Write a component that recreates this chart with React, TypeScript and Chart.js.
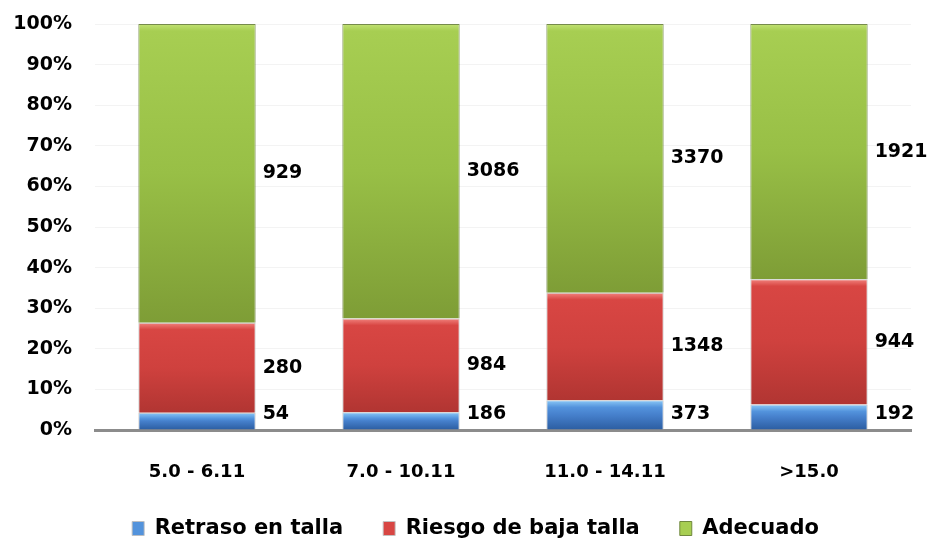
import React, { useEffect, useRef } from "react";
import { Chart, registerables } from "chart.js";

Chart.register(...registerables);

const categories = ["5.0 - 6.11", "7.0 - 10.11", "11.0 - 14.11", ">15.0"];
const seriesNames = ["Retraso en talla", "Riesgo de baja talla", "Adecuado"];
const retraso = [54, 186, 373, 192];
const riesgo = [280, 984, 1348, 944];
const adecuado = [929, 3086, 3370, 1921];
const yTicks = [0, 10, 20, 30, 40, 50, 60, 70, 80, 90, 100];

const palette = [
  { hi: "#8ccaf8", mid: "#5393dc", mid2: "#4680cc", lo: "#2c5ea2", border: "rgba(190,190,190,0.9)" },
  { hi: "#f2847f", mid: "#d84643", mid2: "#cf413e", lo: "#b13532", border: "rgba(195,195,195,0.95)" },
  { hi: "#c2e274", mid: "#a7ce52", mid2: "#98bf46", lo: "#7e9d36", border: "rgba(95,120,45,0.85)" },
];

const FONT = '"DejaVu Sans", "Liberation Sans", Arial, sans-serif';

export default function App() {
  const ref = useRef<HTMLCanvasElement>(null);

  useEffect(() => {
    if (!ref.current) return;
    const raw = [retraso, riesgo, adecuado];
    const totals = categories.map((_, i) => retraso[i] + riesgo[i] + adecuado[i]);
    const pct = raw.map((s) => s.map((v, i) => (v / totals[i]) * 100));

    const gradientPlugin = {
      id: "gradientBars",
      beforeDatasetsDraw(chart: any) {
        const ctx = chart.ctx;
        chart.data.datasets.forEach((_: any, i: number) => {
          const meta = chart.getDatasetMeta(i);
          meta.data.forEach((el: any) => {
            const top = Math.min(el.y, el.base);
            const bot = Math.max(el.y, el.base);
            const h = Math.max(1, bot - top);
            const g = ctx.createLinearGradient(0, top, 0, bot);
            const c = palette[i];
            const s1 = Math.min(0.35, 7 / h);
            g.addColorStop(0, c.hi);
            g.addColorStop(s1, c.mid);
            g.addColorStop(Math.max(s1 + 0.01, 0.5), c.mid2);
            g.addColorStop(1, c.lo);
            el.options.backgroundColor = g;
          });
        });
      },
    };

    const legendShift = {
      id: "legendShift",
      afterLayout(chart: any) {
        const lg = chart.legend;
        if (!lg) return;
        lg.left += 17;
        lg.right += 17;
      },
    };

    const labelPlugin = {
      id: "valueLabels",
      afterDatasetsDraw(chart: any) {
        const ctx = chart.ctx;
        ctx.save();
        ctx.font = `bold 19px ${FONT}`;
        ctx.fillStyle = "#000";
        ctx.textAlign = "left";
        ctx.textBaseline = "middle";
        chart.data.datasets.forEach((_: any, i: number) => {
          const meta = chart.getDatasetMeta(i);
          meta.data.forEach((el: any, j: number) => {
            const x = el.x + el.width / 2 + 7;
            let y = (el.y + el.base) / 2;
            y = Math.min(y, chart.chartArea.bottom - 16);
            ctx.fillText(String(raw[i][j]), x, y);
          });
        });
        ctx.restore();
      },
    };

    const chart = new Chart(ref.current, {
      type: "bar",
      data: {
        labels: categories,
        datasets: seriesNames.map((name, i) => ({
          label: name,
          data: pct[i],
          backgroundColor: (c: any) => palette[c.datasetIndex].mid,
          borderColor: palette[i].border,
          borderWidth: 1,
          barPercentage: 0.575,
          categoryPercentage: 1,
        })),
      },
      options: {
        animation: false,
        responsive: true,
        maintainAspectRatio: false,
        layout: { padding: { left: 6, right: 18, top: 3, bottom: -3 } },
        plugins: {
          tooltip: { enabled: false },
          legend: {
            position: "bottom",
            labels: {
              color: "#000",
              font: { family: FONT, weight: "bold", size: 21 },
              boxWidth: 12,
              boxHeight: 14,
              padding: 40,
            },
          },
        },
        scales: {
          x: {
            stacked: true,
            grid: { display: false },
            border: { display: true, color: "#8c8c8c", width: 3 },
            ticks: {
              color: "#000",
              font: { family: FONT, weight: "bold", size: 18 },
              padding: 24,
            },
            afterFit: (s: any) => {
              s.height = 48;
            },
          },
          y: {
            stacked: true,
            min: 0,
            max: 100,
            afterBuildTicks: (s: any) => {
              s.ticks = yTicks.map((v) => ({ value: v }));
            },
            afterFit: (s: any) => {
              s.width = 89;
              s.paddingTop = 24;
              s.paddingBottom = 0;
            },
            grid: { color: "#f3f3f3", drawTicks: false },
            border: { display: false },
            ticks: {
              color: "#000",
              font: { family: FONT, weight: "bold", size: 19 },
              padding: 23,
              callback: (v: any) => `${v}%`,
            },
          },
        },
      },
      plugins: [gradientPlugin, labelPlugin, legendShift],
    } as any);
    return () => chart.destroy();
  }, []);

  return (
    <div style={{ position: "absolute", left: 0, top: 0, width: 929, height: 546, background: "#fff" }}>
      <canvas ref={ref} />
    </div>
  );
}
